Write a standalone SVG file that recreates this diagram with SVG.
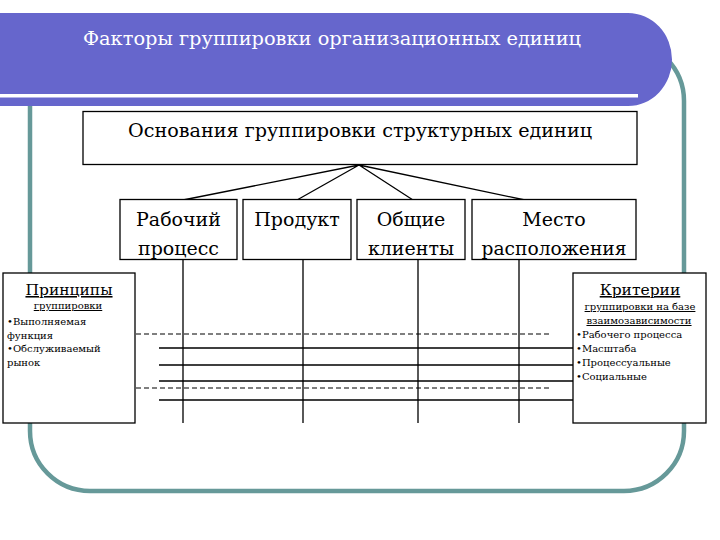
<svg xmlns="http://www.w3.org/2000/svg" width="720" height="540" viewBox="0 0 720 540">
<style>
text{font-family:'DejaVu Serif',serif;fill:#000}
.box{fill:#fff;stroke:#000;stroke-width:1.3}
.big{font-size:19px;text-anchor:middle}
.mid{font-size:15.5px;text-anchor:middle;text-decoration:underline}
.sm{font-size:10px}
.smc{font-size:10px;text-anchor:middle;text-decoration:underline}
.ln{stroke:#000;stroke-width:1.3;fill:none}
.dash{stroke:#000;stroke-width:1.2;stroke-dasharray:5 3;fill:none}
</style>
<rect width="720" height="540" fill="#fff"/>
<g id="frame">
<rect x="30" y="41" width="654" height="450" rx="60" ry="60" fill="none" stroke="#669999" stroke-width="4.5"/>
</g>
<g id="header">
<path d="M-5 13 H628 A44 46.5 0 0 1 628 106 H-5 Z" fill="#6666CC"/>
<rect x="0" y="94" width="638" height="3.5" fill="#fff"/>
<text x="332" y="45" font-size="19" textLength="498" lengthAdjust="spacingAndGlyphs" text-anchor="middle" style="fill:#fff">Факторы группировки организационных единиц</text>
</g>
<g id="connectors">
<path class="ln" d="M359 165 L183 200 M359 165 L297 200 M359 165 L413 200 M359 165 L525 200"/>
<path class="ln" d="M183 259 V423 M303 259 V423 M418 259 V423 M519 259 V423"/>
<path class="dash" d="M136 334 H551 M136 388 H551"/>
<path class="ln" d="M159 348 H573 M159 365 H573 M159 381 H573 M159 400 H573"/>
</g>
<g id="root">
<rect class="box" x="83" y="111.5" width="554" height="53"/>
<text class="big" x="360" y="137" textLength="464" lengthAdjust="spacingAndGlyphs">Основания группировки структурных единиц</text>
</g>
<g id="n-process">
<rect class="box" x="120" y="199.5" width="117" height="60"/>
<text class="big" x="178.5" y="226">Рабочий</text>
<text class="big" x="178.5" y="255">процесс</text>
</g>
<g id="n-product">
<rect class="box" x="243" y="199.5" width="108" height="60"/>
<text class="big" x="297" y="226">Продукт</text>
</g>
<g id="n-clients">
<rect class="box" x="357" y="199.5" width="108" height="60"/>
<text class="big" x="411" y="226">Общие</text>
<text class="big" x="411" y="255">клиенты</text>
</g>
<g id="n-place">
<rect class="box" x="472" y="199.5" width="164" height="60"/>
<text class="big" x="554" y="226">Место</text>
<text class="big" x="554" y="255" textLength="145" lengthAdjust="spacingAndGlyphs">расположения</text>
</g>
<g id="principles">
<rect class="box" x="3" y="273" width="132" height="150"/>
<text class="mid" x="69" y="295">Принципы</text>
<text class="smc" x="68" y="309">группировки</text>
<text class="sm" x="7" y="325">•Выполняемая</text>
<text class="sm" x="7" y="338.5">функция</text>
<text class="sm" x="7" y="352">•Обслуживаемый</text>
<text class="sm" x="7" y="366">рынок</text>
</g>
<g id="criteria">
<rect class="box" x="573" y="273" width="133" height="150"/>
<text class="mid" x="640" y="295">Критерии</text>
<text class="smc" x="640" y="310">группировки на базе</text>
<text class="smc" x="639" y="324">взаимозависимости</text>
<text class="sm" x="576" y="338">•Рабочего процесса</text>
<text class="sm" x="576" y="352">•Масштаба</text>
<text class="sm" x="576" y="366">•Процессуальные</text>
<text class="sm" x="576" y="380">•Социальные</text>
</g>
</svg>
